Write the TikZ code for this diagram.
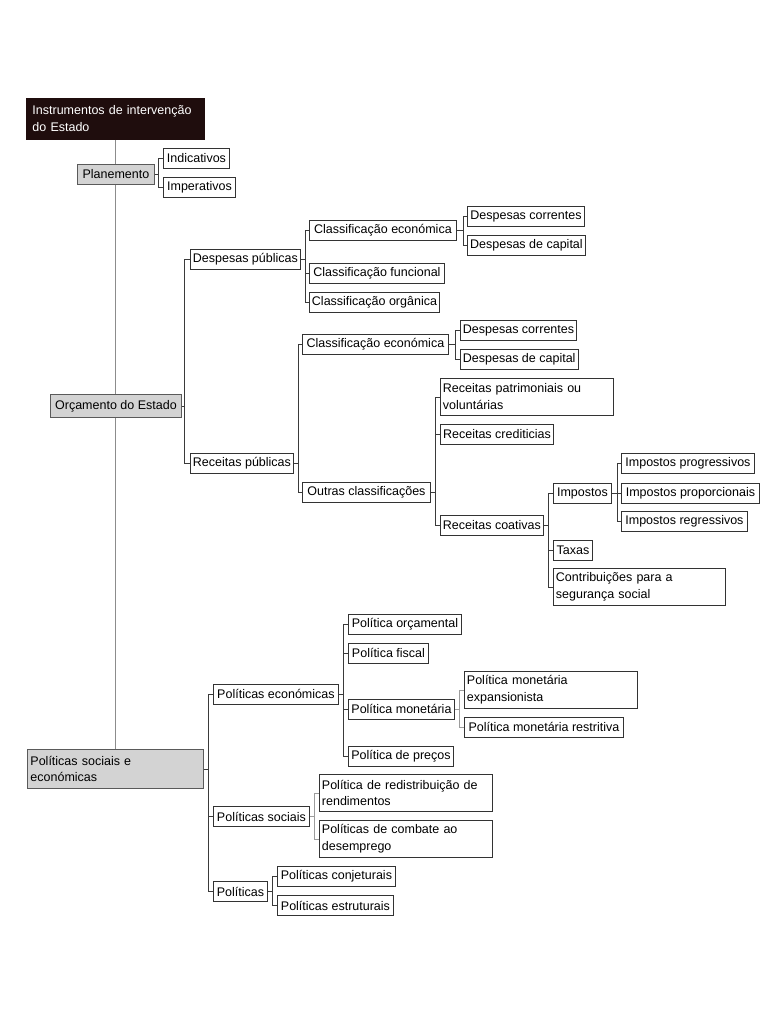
\documentclass[tikz,border=0pt]{standalone}
\usepackage{fontspec}
\setmainfont{Liberation Sans}
\usepackage{xcolor}

\definecolor{boxline}{HTML}{333333}
\definecolor{linkc}{HTML}{3A3A3A}
\definecolor{faintc}{HTML}{9C9C9C}
\definecolor{trunkc}{HTML}{8C8C8C}
\definecolor{greyfill}{HTML}{D3D3D3}
\definecolor{greyline}{HTML}{5A5A5A}
\definecolor{rootfill}{HTML}{1F0D0D}

\begin{document}
\begin{tikzpicture}[x=1pt,y=-1pt,
    font=\fontsize{12.5}{17}\selectfont,
    box/.style={draw=boxline, fill=white, line width=0.9pt, anchor=north west,
      inner xsep=2.5pt, inner ysep=0pt, minimum height=20pt, minimum width=#1},
    greybox/.style={box=#1, fill=greyfill, draw=greyline},
    twoline/.style={text width=#1, align=left, minimum height=37pt},
    link/.style={draw=linkc, line width=0.9pt},
    faint/.style={draw=faintc, line width=0.8pt},
    trunk/.style={draw=trunkc, line width=0.7pt}]
    \useasboundingbox (0,0) rectangle (768,1024);

    % Root
    \node[box=178pt, fill=rootfill, draw=rootfill, text=white, inner xsep=6pt,
      twoline=166pt, minimum height=41pt] (root) at (26,98)
      {Instrumentos de intervenção\\do Estado};

    % Main branches
    \node[greybox=77pt] (plan) at (77,164) {Planemento};
    \node[greybox=131pt, minimum height=23pt] (orc) at (50,394) {Orçamento do Estado};
    \node[greybox=176pt, twoline=170pt, minimum height=39pt] (pse) at (27,749)
      {Políticas sociais e\\económicas};

    % Planemento
    \node[box=66pt] (ind) at (163,148) {Indicativos};
    \node[box=72pt] (imp) at (163,177) {Imperativos};

    % Despesas
    \node[box=109pt] (dpub) at (190,249) {Despesas públicas};
    \node[box=147pt] (ce1) at (309,220) {Classificação económica};
    \node[box=135pt] (cf) at (309,263) {Classificação funcional};
    \node[box=127pt] (co) at (309,292) {Classificação orgânica};
    \node[box=117pt] (dc1) at (467,206) {Despesas correntes};
    \node[box=118pt] (dk1) at (467,235) {Despesas de capital};

    % Receitas
    \node[box=103pt] (rpub) at (190,453) {Receitas públicas};
    \node[box=146pt] (ce2) at (302,334) {Classificação económica};
    \node[box=128pt] (oc) at (302,482) {Outras classificações};
    \node[box=116pt] (dc2) at (460,320) {Despesas correntes};
    \node[box=117pt] (dk2) at (460,349) {Despesas de capital};
    \node[box=173pt, twoline=168pt] (rpv) at (440,378) {Receitas patrimoniais ou\\voluntárias};
    \node[box=113pt] (rcr) at (440,424) {Receitas crediticias};
    \node[box=102pt] (rco) at (440,515) {Receitas coativas};
    \node[box=58pt] (impo) at (553,483) {Impostos};
    \node[box=39pt] (tax) at (553,540) {Taxas};
    \node[box=172pt, twoline=167pt] (css) at (553,568) {Contribuições para a\\segurança social};
    \node[box=133pt] (ipg) at (621,453) {Impostos progressivos};
    \node[box=138pt] (ipp) at (621,483) {Impostos proporcionais};
    \node[box=126pt] (irg) at (621,511) {Impostos regressivos};

    % Politicas
    \node[box=125pt] (pec) at (213,684) {Políticas económicas};
    \node[box=96pt] (pso) at (213,806) {Políticas sociais};
    \node[box=54pt] (pol) at (213,881) {Políticas};
    \node[box=113pt] (porc) at (348,614) {Política orçamental};
    \node[box=80pt] (pfis) at (348,643) {Política fiscal};
    \node[box=106pt] (pmon) at (348,699) {Política monetária};
    \node[box=105pt] (ppre) at (348,746) {Política de preços};
    \node[box=173pt, twoline=168pt] (pme) at (464,671) {Política monetária\\expansionista};
    \node[box=159pt] (pmr) at (464,717) {Política monetária restritiva};
    \node[box=173pt, twoline=168pt] (prr) at (319,774) {Política de redistribuição de\\rendimentos};
    \node[box=173pt, twoline=168pt] (pcd) at (319,820) {Políticas de combate ao\\desemprego};
    \node[box=118pt] (pcj) at (277,866) {Políticas conjeturais};
    \node[box=116pt] (pes) at (277,895) {Políticas estruturais};

    % Trunk
    \draw[trunk] (root.south) -- (root.south |- plan.north);
    \draw[trunk] (root.south |- plan.south) -- (root.south |- orc.north);
    \draw[trunk] (root.south |- orc.south) -- (root.south |- pse.north);

    % Bracket columns
    \coordinate (kplan) at (158,0);
    \coordinate (korc) at (184,0);
    \coordinate (kdpub) at (305,0);
    \coordinate (kce1) at (463,0);
    \coordinate (krpub) at (298,0);
    \coordinate (kce2) at (455,0);
    \coordinate (koc) at (435,0);
    \coordinate (krco) at (548,0);
    \coordinate (kimpo) at (617,0);
    \coordinate (kpse) at (208,0);
    \coordinate (kpec) at (343,0);
    \coordinate (kpmon) at (459,0);
    \coordinate (kpso) at (314,0);
    \coordinate (kpol) at (272,0);

    % Brackets
    \draw[link] (plan.east) -- (plan.east -| kplan);
    \foreach \c in {ind,imp}
      \draw[link] (plan.east -| kplan) |- (\c.west);

    \draw[link] (orc.east) -- (orc.east -| korc);
    \foreach \c in {dpub,rpub}
      \draw[link] (orc.east -| korc) |- (\c.west);

    \draw[link] (dpub.east) -- (dpub.east -| kdpub);
    \foreach \c in {ce1,cf,co}
      \draw[link] (dpub.east -| kdpub) |- (\c.west);

    \draw[link] (ce1.east) -- (ce1.east -| kce1);
    \foreach \c in {dc1,dk1}
      \draw[link] (ce1.east -| kce1) |- (\c.west);

    \draw[link] (rpub.east) -- (rpub.east -| krpub);
    \foreach \c in {ce2,oc}
      \draw[link] (rpub.east -| krpub) |- (\c.west);

    \draw[link] (ce2.east) -- (ce2.east -| kce2);
    \foreach \c in {dc2,dk2}
      \draw[link] (ce2.east -| kce2) |- (\c.west);

    \draw[link] (oc.east) -- (oc.east -| koc);
    \foreach \c in {rpv,rcr,rco}
      \draw[link] (oc.east -| koc) |- (\c.west);

    \draw[link] (rco.east) -- (rco.east -| krco);
    \foreach \c in {impo,tax,css}
      \draw[link] (rco.east -| krco) |- (\c.west);

    \draw[link] (impo.east) -- (impo.east -| kimpo);
    \foreach \c in {ipg,ipp,irg}
      \draw[link] (impo.east -| kimpo) |- (\c.west);

    \draw[link] (pse.east) -- (pse.east -| kpse);
    \foreach \c in {pec,pso,pol}
      \draw[link] (pse.east -| kpse) |- (\c.west);

    \draw[link] (pec.east) -- (pec.east -| kpec);
    \foreach \c in {porc,pfis,pmon,ppre}
      \draw[link] (pec.east -| kpec) |- (\c.west);

    \draw[faint] (pmon.east) -- (pmon.east -| kpmon);
    \foreach \c in {pme,pmr}
      \draw[faint] (pmon.east -| kpmon) |- (\c.west);

    \draw[faint] (pso.east) -- (pso.east -| kpso);
    \foreach \c in {prr,pcd}
      \draw[faint] (pso.east -| kpso) |- (\c.west);

    \draw[link] (pol.east) -- (pol.east -| kpol);
    \foreach \c in {pcj,pes}
      \draw[link] (pol.east -| kpol) |- (\c.west);
\end{tikzpicture}
\end{document}
